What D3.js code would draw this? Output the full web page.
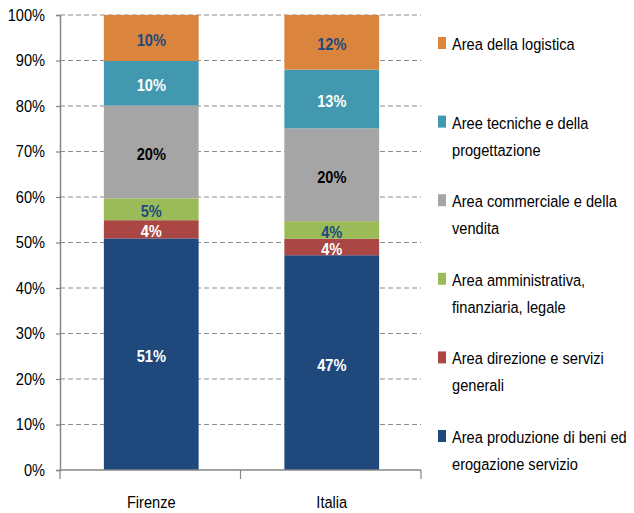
<!DOCTYPE html>
<html>
<head>
<meta charset="utf-8">
<script src="https://cdn.jsdelivr.net/npm/d3@7"></script>
<style>
  body { margin: 0; background: #fff; }
  svg text { font-family: "Liberation Sans", Arial, sans-serif; }
</style>
</head>
<body>
<svg id="chart" width="634" height="513"></svg>
<script>
// dati (dal basso verso l'alto nella colonna)
const categories = ["Firenze", "Italia"];
const areas = [
  "Area produzione di beni ed erogazione servizio",
  "Area direzione e servizi generali",
  "Area amministrativa, finanziaria, legale",
  "Area commerciale e della vendita",
  "Aree tecniche e della progettazione",
  "Area della logistica"
];
const firenze = [50.9, 4.0, 4.8, 20.4, 9.8, 10.1];
const italia = [47.2, 3.6, 3.9, 20.4, 12.9, 12.0];
const yTicks = [0, 10, 20, 30, 40, 50, 60, 70, 80, 90, 100];

// legenda, dall'alto in basso, con a capo come nell'originale
const legendLines = [
  ["Area della logistica"],
  ["Aree tecniche e della", "progettazione"],
  ["Area commerciale e della", "vendita"],
  ["Area amministrativa,", "finanziaria, legale"],
  ["Area direzione e servizi", "generali"],
  ["Area produzione di beni ed", "erogazione servizio"]
];

const colors = ["#1F497D", "#AA4643", "#9BBB59", "#A5A5A5", "#4198AF", "#DB843D"];
const labelColors = ["#fff", "#fff", "#1F497D", "#000", "#fff", "#1F497D"];

const svg = d3.select("#chart");
const mLeft = 60, mRight = 421, mTop = 15, mBottom = 470;
const sx = 0.86; // testo stretto, tipo Calibri

const squeeze = (tx, ty) => `translate(${tx},${ty}) scale(${sx},1)`;

const rows = categories.map((c, i) => {
  const vals = i === 0 ? firenze : italia;
  const r = { cat: c };
  areas.forEach((a, j) => r[a] = vals[j]);
  return r;
});

const stack = d3.stack().keys(areas);
const series = stack(rows);

const x = d3.scaleBand().domain(categories).range([mLeft, mRight]).padding(0);
const y = d3.scaleLinear().domain([0, 100]).range([mBottom, mTop]);
const barW = x.bandwidth() * 0.525;

// griglia tratteggiata
svg.append("g")
  .selectAll("line")
  .data(yTicks.filter(d => d > 0))
  .join("line")
  .attr("x1", mLeft).attr("x2", mRight)
  .attr("y1", d => y(d)).attr("y2", d => y(d))
  .attr("stroke", "#8c8c8c")
  .attr("stroke-width", 1.2)
  .attr("stroke-dasharray", "5,3");

// barre impilate
const layers = svg.append("g")
  .selectAll("g")
  .data(series)
  .join("g")
  .attr("fill", (d, i) => colors[i]);

layers.selectAll("rect")
  .data(d => d)
  .join("rect")
  .attr("x", d => x(d.data.cat) + (x.bandwidth() - barW) / 2 + 1)
  .attr("width", barW)
  .attr("y", d => y(d[1]))
  .attr("height", d => y(d[0]) - y(d[1]));

// etichette dei valori
svg.append("g")
  .selectAll("g")
  .data(series)
  .join("g")
  .attr("fill", (d, i) => labelColors[i])
  .selectAll("text")
  .data(d => d)
  .join("text")
  .attr("transform", d => squeeze(x(d.data.cat) + x.bandwidth() / 2 + 1, (y(d[0]) + y(d[1])) / 2 + 8))
  .attr("text-anchor", "middle")
  .attr("font-size", 17)
  .attr("font-weight", "bold")
  .text(d => Math.round(d[1] - d[0]) + "%");

// asse y
const yAxis = svg.append("g")
  .attr("transform", `translate(${mLeft},0)`)
  .call(d3.axisLeft(y).tickValues(yTicks).tickSize(4).tickFormat(d => d + "%"));
yAxis.select(".domain").attr("stroke", "#868686").attr("stroke-width", 1.5);
yAxis.selectAll(".tick line").attr("stroke", "#868686").attr("stroke-width", 1.2);
yAxis.selectAll(".tick text")
  .attr("x", 0)
  .attr("transform", squeeze(-15, 0))
  .attr("font-size", 17)
  .attr("fill", "#000");

// asse x
const xg = svg.append("g");
xg.append("line")
  .attr("x1", mLeft).attr("x2", mRight)
  .attr("y1", mBottom).attr("y2", mBottom)
  .attr("stroke", "#868686").attr("stroke-width", 1.5);
const edges = categories.map(c => x(c)).concat([mRight]);
xg.selectAll(".xt")
  .data(edges)
  .join("line")
  .attr("x1", d => d).attr("x2", d => d)
  .attr("y1", mBottom).attr("y2", mBottom + 9)
  .attr("stroke", "#868686").attr("stroke-width", 1.2);
xg.selectAll("text")
  .data(categories)
  .join("text")
  .attr("transform", d => squeeze(x(d) + x.bandwidth() / 2 + 1, 508))
  .attr("text-anchor", "middle")
  .attr("font-size", 17)
  .attr("fill", "#000")
  .text(d => d);

// legenda
const legend = svg.append("g")
  .selectAll("g")
  .data(legendLines)
  .join("g")
  .attr("transform", (d, i) => `translate(438,${50 + i * 78.6})`);

legend.append("rect")
  .attr("x", 0).attr("y", -13)
  .attr("width", 8).attr("height", 12)
  .attr("fill", (d, i) => colors[colors.length - 1 - i]);

legend.append("text")
  .attr("transform", squeeze(14, 0))
  .attr("font-size", 17)
  .attr("fill", "#000")
  .selectAll("tspan")
  .data(d => d)
  .join("tspan")
  .attr("x", 0)
  .attr("y", (d, i) => i * 27)
  .text(d => d);
</script>
</body>
</html>
